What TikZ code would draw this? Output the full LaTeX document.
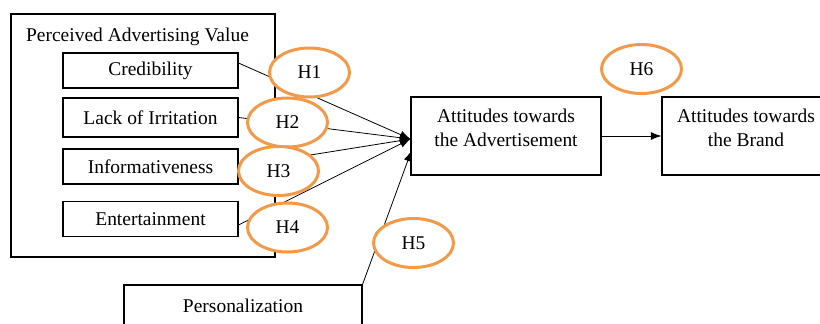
\documentclass[tikz,border=0pt]{standalone}
\usepackage{fontspec}
\setmainfont{Liberation Serif}
\usetikzlibrary{shapes.geometric,arrows.meta}
\definecolor{hypo}{RGB}{243,153,74}
\newcommand{\upper}[1]{\raisebox{5pt}[\height][\depth]{\begin{tabular}{@{}c@{}}#1\end{tabular}}}

\begin{document}
\begin{tikzpicture}[x=0.75pt,y=-0.75pt,
  font=\fontsize{14.6}{18}\selectfont,
  >={Latex[length=8pt,width=6pt]},
  box/.style={draw,line width=0.8pt,minimum width=131.25pt,minimum height=26.25pt,inner sep=0pt},
  bigbox/.style={draw,line width=0.8pt,minimum height=58.5pt,inner sep=0pt},
  hyp/.style={ellipse,draw=hypo,line width=2.25pt,fill=white,minimum width=60pt,minimum height=36.75pt,inner sep=0pt},
  every edge/.style={draw,line width=0.6pt}]
\useasboundingbox (0,0) rectangle (820,324);

\node (pav) [draw,line width=0.8pt,minimum width=198pt,minimum height=182.25pt] at (143,135.5) {};
\node (pavtitle) at (137.5,36.5) {Perceived Advertising Value};
\node (cred) [box] at (150.5,70.5) {Credibility};
\node (lack) [box,minimum height=29.25pt] at (150.5,117.5) {Lack of Irritation};
\node (info) [box] at (150.5,166.5) {Informativeness};
\node (ent) [box] at (150.5,219) {Entertainment};

\node (ad) [bigbox,minimum width=142.5pt] at (506,136) {\upper{Attitudes towards\\the Advertisement}};
\node (brand) [bigbox,minimum width=126pt] at (746,136) {\upper{Attitudes towards\\the Brand}};
\node (pers) [draw,line width=0.8pt,minimum width=178.5pt,minimum height=30.75pt,inner sep=0pt] at (243,305.5) {Personalization};

\coordinate (conv) at ([yshift=-2.25pt]ad.west);
\coordinate (persin) at ([xshift=0.75pt,yshift=-11pt]ad.west);

\path [->]

([yshift=5.6pt]cred.east)
edge
(conv)

(lack.east)
edge
(conv)

(info.east)
edge
(conv)

([yshift=-4.5pt]ent.east)
edge
(conv)

(pers.north east)
edge
(persin)

(ad)
edge
(brand)

;

% hypotheses
\node (h1) [hyp] at (309.5,72.5) {H1};
\node (h2) [hyp] at (287.5,122.5) {H2};
\node (h3) [hyp] at (278.5,171) {H3};
\node (h4) [hyp] at (287.5,227.5) {H4};
\node (h5) [hyp] at (413.5,243) {H5};
\node (h6) [hyp] at (641.5,69) {H6};
\end{tikzpicture}
\end{document}
